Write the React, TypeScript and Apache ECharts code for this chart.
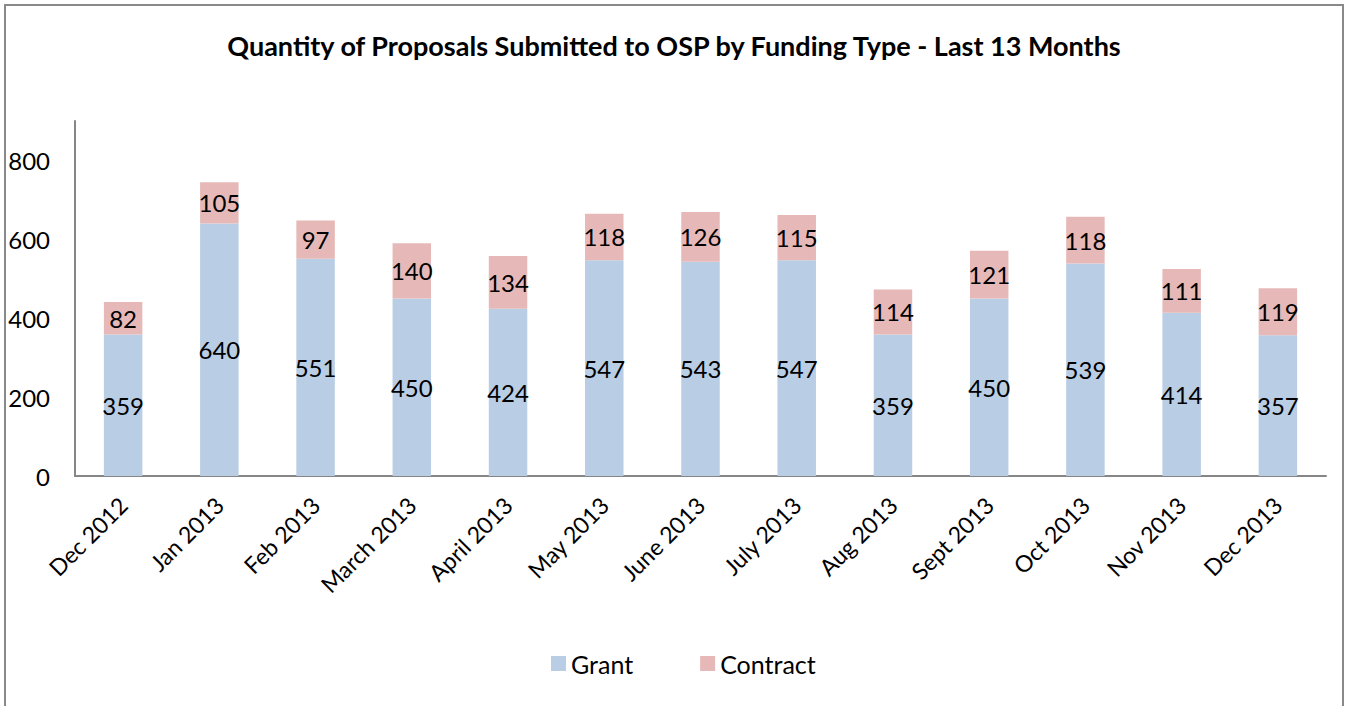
import React, { useEffect, useRef } from "react";
import * as echarts from "echarts";

const categories = [
  "Dec 2012", "Jan 2013", "Feb 2013", "March 2013", "April 2013", "May 2013", "June 2013",
  "July 2013", "Aug 2013", "Sept 2013", "Oct 2013", "Nov 2013", "Dec 2013",
];
const grantValues = [359, 640, 551, 450, 424, 547, 543, 547, 359, 450, 539, 414, 357];
const contractValues = [82, 105, 97, 140, 134, 118, 126, 115, 114, 121, 118, 111, 119];
const titleText = "Quantity of Proposals Submitted to OSP by Funding Type - Last 13 Months";

const FONT = "Lato, 'Open Sans', sans-serif";

export default function App() {
  const ref = useRef<HTMLDivElement>(null);
  useEffect(() => {
    if (!ref.current) return;
    const chart = echarts.init(ref.current, undefined, { renderer: "svg" });
    const labelStyle = {
      show: true,
      position: "inside" as const,
      color: "#000",
      fontSize: 24,
      fontFamily: FONT,
    };
    chart.setOption({
      animation: false,
      backgroundColor: "#fff",
      textStyle: { fontFamily: FONT },
      title: {
        text: titleText,
        left: "center",
        top: 27,
        textStyle: { fontSize: 27, fontWeight: "bold", color: "#000", fontFamily: FONT },
      },
      graphic: [
        {
          type: "rect",
          shape: { x: 5, y: 5, width: 1338, height: 760 },
          style: { fill: "none", stroke: "#898989", lineWidth: 2 },
          silent: true,
          z: 100,
        },
      ],
      legend: {
        bottom: 25,
        left: 546,
        itemWidth: 15,
        itemHeight: 15,
        itemGap: 67,
        icon: "rect",
        textStyle: { fontSize: 25, color: "#000", fontFamily: FONT },
        data: ["Grant", "Contract"],
      },
      grid: { left: 75, right: 22, top: 121, bottom: 230, containLabel: false },
      xAxis: {
        type: "category",
        data: categories,
        axisLine: { lineStyle: { color: "#868686", width: 2 } },
        axisTick: { show: false },
        axisLabel: {
          rotate: 45,
          interval: 0,
          margin: 25,
          fontSize: 23,
          color: "#000",
          fontFamily: FONT,
        },
      },
      yAxis: {
        type: "value",
        min: 0,
        max: 900,
        interval: 200,
        axisLine: { show: true, lineStyle: { color: "#868686", width: 2 } },
        axisTick: { show: false },
        splitLine: { show: false },
        axisLabel: {
          showMaxLabel: false,
          margin: 25,
          fontSize: 24,
          color: "#000",
          fontFamily: FONT,
        },
      },
      series: [
        {
          name: "Grant",
          type: "bar",
          stack: "total",
          data: grantValues,
          barWidth: "40%",
          itemStyle: { color: "#B9CDE5" },
          label: labelStyle,
        },
        {
          name: "Contract",
          type: "bar",
          stack: "total",
          data: contractValues,
          barWidth: "40%",
          itemStyle: { color: "#E6B9B8" },
          label: labelStyle,
        },
      ],
    });
    return () => chart.dispose();
  }, []);
  return (
    <div
      ref={ref}
      style={{ position: "fixed", left: 0, top: 0, width: 1348, height: 706 }}
    />
  );
}
